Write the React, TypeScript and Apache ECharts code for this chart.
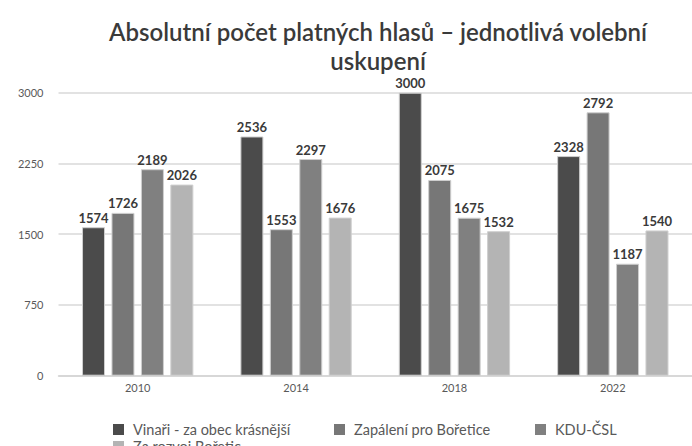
import React, { useEffect, useRef } from "react";
import * as echarts from "echarts";

const years = ["2010", "2014", "2018", "2022"];
const seriesNames = [
  "Vinaři - za obec krásnější",
  "Zapálení pro Bořetice",
  "KDU-ČSL",
  "Za rozvoj Bořetic",
];
const vinari = [1574, 2536, 3000, 2328];
const zapaleni = [1726, 1553, 2075, 2792];
const kdu = [2189, 2297, 1675, 1187];
const rozvoj = [2026, 1676, 1532, 1540];
const yTicks = { min: 0, max: 3000, interval: 750 };
const colors = ["#4b4b4b", "#777777", "#808080", "#b4b4b4"];

const FONT = "Lato";

export default function App() {
  const ref = useRef<HTMLDivElement>(null);
  useEffect(() => {
    if (!ref.current) return;
    const chart = echarts.init(ref.current, null, { renderer: "svg" });
    const values = [vinari, zapaleni, kdu, rozvoj];
    const legendText = {
      fontFamily: FONT,
      fontSize: 14.5,
      color: "#595959",
      padding: [0, 0, 0, 4],
    };
    const legendPos = [
      { left: 113, top: 422 },
      { left: 334, top: 422 },
      { left: 535, top: 422 },
      { left: 113, top: 439 },
    ];
    chart.setOption({
      animation: false,
      backgroundColor: "#ffffff",
      title: {
        text: "Absolutní počet platných hlasů – jednotlivá volební\nuskupení",
        left: 378,
        top: 17,
        padding: 0,
        textAlign: "center",
        textStyle: {
          fontFamily: FONT,
          fontSize: 24,
          fontWeight: 600,
          color: "#3a3a3a",
          lineHeight: 29,
        },
      },
      legend: seriesNames.map((name, i) => ({
        data: [name],
        left: legendPos[i].left,
        top: legendPos[i].top,
        padding: 0,
        icon: "rect",
        itemWidth: 11,
        itemHeight: 11,
        itemStyle: { borderWidth: 0 },
        textStyle: legendText,
      })),
      grid: { left: 58.5, right: -16, top: 92.7, bottom: 70.3, containLabel: false },
      xAxis: {
        type: "category",
        data: years,
        axisLine: { lineStyle: { color: "#d4d4d4", width: 1.5 } },
        axisTick: { show: false },
        axisLabel: {
          fontFamily: FONT,
          fontSize: 11,
          color: "#595959",
          margin: 6,
        },
      },
      yAxis: {
        type: "value",
        min: yTicks.min,
        max: yTicks.max,
        interval: yTicks.interval,
        axisLine: { show: false },
        axisTick: { show: false },
        splitLine: { lineStyle: { color: "#d9d9d9", width: 1.5 } },
        axisLabel: {
          fontFamily: FONT,
          fontSize: 11,
          color: "#595959",
          margin: 15,
          formatter: (v: number) => String(v),
        },
      },
      series: seriesNames.map((name, i) => ({
        name,
        type: "bar",
        data: values[i],
        barWidth: 23,
        barGap: "28%",
        itemStyle: {
          color: colors[i],
          borderColor: "#cfcfcf",
          borderWidth: 1,
        },
        label: {
          show: true,
          position: "top",
          distance: 3,
          fontFamily: FONT,
          fontSize: 13,
          fontWeight: "bold",
          color: "#3a3a3a",
        },
      })),
    });
    return () => chart.dispose();
  }, []);
  return (
    <div
      ref={ref}
      style={{ position: "absolute", left: 0, top: 0, width: 692, height: 446 }}
    />
  );
}
